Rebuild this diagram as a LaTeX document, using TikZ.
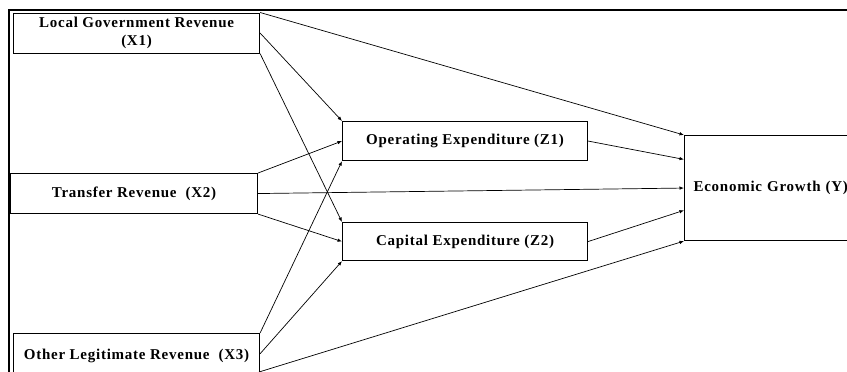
\documentclass[tikz,border=0pt]{standalone}
\usepackage{fontspec}
\setmainfont{Liberation Serif}[LetterSpace=5]
\usetikzlibrary{arrows.meta,calc}
\begin{document}
\begin{tikzpicture}[x=1pt,y=-1pt,
  box/.style={draw, line width=1.1pt, inner sep=0pt, font=\bfseries\fontsize{15}{18}\selectfont, align=center},
  conn/.style={-{Latex[length=4.5pt,width=3.5pt]}, line width=0.7pt}]
\useasboundingbox (0,0) rectangle (847,372);
% outer frame
\draw[line width=2pt] (9,372) -- (9,10) -- (850,10);
% nodes
\node[box, minimum width=246pt, minimum height=40pt, anchor=north west] (x1) at (13,12.5) {Local Government Revenue\\(X1)};
\node[box, minimum width=247pt, minimum height=40pt, anchor=north west] (x2) at (10,173) {Transfer Revenue~ (X2)};
\node[box, minimum width=246pt, minimum height=45pt, anchor=north west, text depth=0pt] (x3) at (13,333) {\raisebox{4pt}{Other Legitimate Revenue~ (X3)}};
\node[box, minimum width=245pt, minimum height=39pt, anchor=north west] (z1) at (342,121) {Operating Expenditure (Z1)};
\node[box, minimum width=245pt, minimum height=38pt, anchor=north west] (z2) at (342,222) {Capital Expenditure (Z2)};
\node[box, minimum width=190pt, minimum height=105pt, anchor=north west, align=left, text width=172pt, inner xsep=9pt] (y) at (684,135) {Economic Growth (Y)};
% connectors
\coordinate (x3e) at ($(x3.north east)!0.45!(x3.south east)$);
\coordinate (x3se) at (259,372);
\coordinate (y1) at ($(y.north west)!0.23!(y.south west)$);
\coordinate (y3) at ($(y.north west)!0.71!(y.south west)$);
\draw[conn] (x1.north east) -- (y.north west);
\draw[conn] (x1.east) -- (z1.north west);
\draw[conn] (x1.south east) -- (z2.north west);
\draw[conn] (x2.north east) -- (z1.west);
\draw[conn] (x2.east) -- (y.west);
\draw[conn] (x2.south east) -- (z2.west);
\draw[conn] (x3.north east) -- (z1.south west);
\draw[conn] (x3e) -- (z2.south west);
\draw[conn] (x3se) -- (y.south west);
\draw[conn] (z1.east) -- (y1);
\draw[conn] (z2.east) -- (y3);
\end{tikzpicture}
\end{document}
